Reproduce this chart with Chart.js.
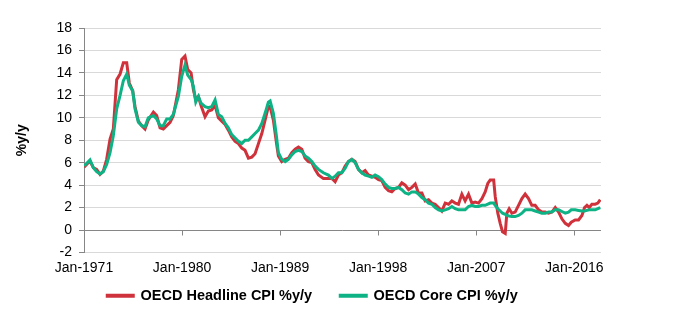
<!DOCTYPE html>
<html>
<head>
<meta charset="utf-8">
<script src="https://cdn.jsdelivr.net/npm/chart.js@4.4.1/dist/chart.umd.min.js"></script>
<style>
  html, body { margin: 0; padding: 0; background: #ffffff; }
  #wrap { width: 679px; height: 322px; }
</style>
</head>
<body>
<div id="wrap"><canvas id="cpiChart" width="679" height="322"></canvas></div>
<script>
const HEADLINE_COLOR = "#cf323b";
const CORE_COLOR = "#0db285";
const AXIS_COLOR = "#868686";
const GRID_COLOR = "#d9d9d9";
const FONT_FAMILY = "'Liberation Sans', Arial, sans-serif";

// x ticks shown on the axis (Jan of each year)
const tickYears = [1971, 1980, 1989, 1998, 2007, 2016];

const years = [
  1971.0, 1971.55, 1971.86, 1972.16, 1972.47, 1972.77, 1973.08, 1973.39, 1973.69, 1974.0,
  1974.31, 1974.61, 1974.92, 1975.16, 1975.47, 1975.68, 1975.99, 1976.3, 1976.6, 1976.9,
  1977.37, 1977.67, 1977.98, 1978.28, 1978.59, 1978.9, 1979.2, 1979.66, 1979.97, 1980.27,
  1980.52, 1980.83, 1981.04, 1981.26, 1981.5, 1981.74, 1982.11, 1982.41, 1982.72, 1983.03,
  1983.33, 1983.64, 1983.95, 1984.25, 1984.56, 1984.87, 1985.17, 1985.48, 1985.78, 1986.09,
  1986.4, 1986.7, 1987.01, 1987.32, 1987.62, 1987.92, 1988.08, 1988.38, 1988.63, 1988.84,
  1989.15, 1989.46, 1989.76, 1990.07, 1990.38, 1990.68, 1990.99, 1991.29, 1991.6, 1991.91,
  1992.21, 1992.52, 1992.97, 1993.43, 1993.75, 1994.05, 1994.35, 1994.66, 1994.97, 1995.27,
  1995.58, 1995.88, 1996.19, 1996.5, 1996.8, 1997.11, 1997.42, 1997.72, 1998.03, 1998.33,
  1998.64, 1998.95, 1999.25, 1999.56, 1999.87, 2000.17, 2000.48, 2000.79, 2001.09, 2001.4,
  2001.7, 2002.01, 2002.31, 2002.62, 2002.93, 2003.23, 2003.54, 2003.84, 2004.15, 2004.46,
  2004.76, 2005.07, 2005.37, 2005.68, 2005.98, 2006.29, 2006.6, 2006.9, 2007.21, 2007.52,
  2007.82, 2008.06, 2008.28, 2008.6, 2008.74, 2008.98, 2009.2, 2009.41, 2009.66, 2009.81,
  2010.02, 2010.27, 2010.57, 2010.88, 2011.19, 2011.49, 2011.8, 2012.1, 2012.41, 2012.72,
  2013.02, 2013.33, 2013.64, 2013.94, 2014.25, 2014.56, 2014.86, 2015.17, 2015.47, 2015.72,
  2016.08, 2016.39, 2016.7, 2016.94, 2017.16, 2017.37, 2017.61, 2017.92, 2018.16, 2018.38,
];

const headlineCpi = [
  5.6, 6.15, 5.55, 5.4, 4.95, 5.25, 6.3, 8.1, 9.0, 13.4,
  13.9, 14.9, 14.9, 13.1, 12.4, 11.0, 9.7, 9.3, 9.0, 9.8,
  10.5, 10.2, 9.1, 9.0, 9.3, 9.6, 10.2, 12.5, 15.2, 15.5,
  14.3, 14.0, 12.5, 11.6, 11.9, 11.1, 10.1, 10.6, 10.7, 11.1,
  10.0, 9.7, 9.4, 8.9, 8.3, 7.9, 7.7, 7.3, 7.1, 6.4,
  6.5, 6.8, 7.7, 8.6, 9.8, 11.0, 11.0, 9.8, 8.0, 6.6,
  6.1, 6.3, 6.4, 6.9, 7.2, 7.4, 7.2, 6.4, 6.1, 6.0,
  5.4, 4.9, 4.6, 4.6, 4.6, 4.3, 4.9, 5.1, 5.7, 6.1,
  6.3, 6.1, 5.4, 5.1, 5.3, 4.9, 4.8, 4.7, 4.5, 4.4,
  3.8, 3.5, 3.4, 3.7, 3.8, 4.2, 4.0, 3.6, 3.8, 4.1,
  3.3, 3.3, 2.6, 2.7, 2.4, 2.3, 2.0, 1.7, 2.4, 2.3,
  2.6, 2.4, 2.3, 3.2, 2.6, 3.2, 2.4, 2.5, 2.4, 2.8,
  3.4, 4.15, 4.45, 4.45, 3.0, 1.5, 0.6, -0.15, -0.3, 1.5,
  1.9, 1.5, 1.6, 2.2, 2.8, 3.2, 2.8, 2.2, 2.2, 1.8,
  1.6, 1.6, 1.5, 1.6, 2.0, 1.6, 1.0, 0.6, 0.4, 0.7,
  0.9, 0.9, 1.3, 2.0, 2.2, 2.0, 2.3, 2.3, 2.4, 2.7,
];

const coreCpi = [
  5.7, 6.25, 5.55, 5.2, 5.0, 5.2, 5.85, 6.9, 8.4, 10.8,
  12.0, 13.3, 13.9, 12.9, 12.4, 10.8, 9.6, 9.3, 9.2, 10.0,
  10.2, 9.9, 9.3, 9.3, 9.9, 9.9, 10.3, 11.9, 13.7, 14.7,
  13.8, 13.4, 12.8, 11.4, 11.9, 11.3, 11.0, 10.9, 11.0, 11.6,
  10.3, 10.1, 9.5, 9.1, 8.5, 8.2, 7.9, 7.7, 8.0, 8.0,
  8.3, 8.6, 8.9, 9.5, 10.4, 11.4, 11.5, 10.4, 8.6, 6.9,
  6.3, 6.1, 6.3, 6.7, 7.0, 7.1, 7.0, 6.6, 6.4, 6.1,
  5.7, 5.4, 5.1, 4.9, 4.6, 4.8, 5.1, 5.1, 5.5, 6.1,
  6.3, 6.0, 5.4, 5.1, 4.9, 4.8, 4.7, 4.9, 4.75, 4.5,
  4.1, 3.8, 3.7, 3.7, 3.8, 3.6, 3.3, 3.2, 3.4, 3.4,
  3.2, 2.9, 2.7, 2.4, 2.3, 2.0, 1.8, 1.7, 1.8, 1.9,
  2.1, 1.9, 1.8, 1.8, 1.8, 2.1, 2.2, 2.1, 2.1, 2.2,
  2.2, 2.3, 2.4, 2.4, 2.2, 1.9, 1.7, 1.5, 1.4, 1.3,
  1.25, 1.2, 1.2, 1.3, 1.5, 1.8, 1.8, 1.8, 1.7, 1.6,
  1.5, 1.5, 1.6, 1.6, 1.8, 1.8, 1.65, 1.5, 1.6, 1.8,
  1.8, 1.75, 1.7, 1.7, 1.75, 1.8, 1.8, 1.8, 1.9, 2.0,
];

function toPoints(values) {
  return years.map((yr, i) => ({ x: yr, y: values[i] }));
}

// Excel-style horizontal axis crossing at 0, with tick marks hanging below it
const zeroAxisLine = {
  id: "zeroAxisLine",
  beforeDatasetsDraw(chart) {
    const { ctx, chartArea, scales } = chart;
    const y0 = Math.round(scales.y.getPixelForValue(0)) + 0.5;
    ctx.save();
    ctx.strokeStyle = AXIS_COLOR;
    ctx.lineWidth = 1;
    ctx.beginPath();
    ctx.moveTo(chartArea.left, y0);
    ctx.lineTo(chartArea.right, y0);
    scales.x.ticks.forEach((t) => {
      const x = Math.round(scales.x.getPixelForValue(t.value)) + 0.5;
      ctx.moveTo(x, y0);
      ctx.lineTo(x, y0 + 5);
    });
    ctx.stroke();
    ctx.restore();
  },
};

// nudge the legend so it sits where the original one does
const legendNudge = {
  id: "legendNudge",
  afterLayout(chart) {
    if (!chart.legend) return;
    chart.legend.left += 5;
    chart.legend.right += 5;
  },
};

const ctx = document.getElementById("cpiChart").getContext("2d");
new Chart(ctx, {
  type: "line",
  data: {
    datasets: [
      {
        label: "OECD Headline CPI %y/y",
        data: toPoints(headlineCpi),
        borderColor: HEADLINE_COLOR,
        backgroundColor: HEADLINE_COLOR,
        borderWidth: 3,
        pointRadius: 0,
        tension: 0,
        order: 1,
      },
      {
        label: "OECD Core CPI %y/y",
        data: toPoints(coreCpi),
        borderColor: CORE_COLOR,
        backgroundColor: CORE_COLOR,
        borderWidth: 3,
        pointRadius: 0,
        tension: 0,
        order: 0,
      },
    ],
  },
  options: {
    responsive: false,
    animation: false,
    devicePixelRatio: 1,
    layout: {
      padding: { left: 14, right: 78, top: 28, bottom: 9 },
    },
    scales: {
      x: {
        type: "linear",
        min: 1971,
        max: 2018.45,
        afterBuildTicks: (scale) => {
          scale.ticks = tickYears.map((v) => ({ value: v }));
        },
        afterFit: (scale) => {
          scale.height = 24;
        },
        grid: { display: false, drawTicks: false },
        border: { display: false },
        ticks: {
          autoSkip: false,
          maxRotation: 0,
          padding: 7,
          color: "#000000",
          font: { family: FONT_FAMILY, size: 14 },
          callback: (value) => "Jan-" + value,
        },
      },
      y: {
        min: -2,
        max: 18,
        afterFit: (scale) => {
          scale.width = 70;
        },
        grid: {
          color: GRID_COLOR,
          tickColor: AXIS_COLOR,
          tickLength: 5,
          lineWidth: 1,
        },
        border: { color: AXIS_COLOR, width: 1 },
        ticks: {
          stepSize: 2,
          padding: 7,
          color: "#000000",
          font: { family: FONT_FAMILY, size: 14 },
        },
        title: {
          display: true,
          text: "%y/y",
          color: "#000000",
          padding: 0,
          font: { family: FONT_FAMILY, size: 14, weight: "bold" },
        },
      },
    },
    plugins: {
      legend: {
        position: "bottom",
        labels: {
          boxWidth: 26,
          boxHeight: 1,
          padding: 12,
          color: "#000000",
          font: { family: FONT_FAMILY, size: 14.5, weight: "bold" },
          sort: (a, b) => a.datasetIndex - b.datasetIndex,
          // extra spacing after the first entry, as in the original legend
          generateLabels: (chart) =>
            Chart.defaults.plugins.legend.labels.generateLabels(chart).map((item) => ({
              ...item,
              text: item.datasetIndex === 0 ? item.text + "\u00a0\u00a0\u00a0\u00a0" : item.text,
            })),
        },
      },
      tooltip: { enabled: false },
    },
  },
  plugins: [zeroAxisLine, legendNudge],
});
</script>
</body>
</html>
